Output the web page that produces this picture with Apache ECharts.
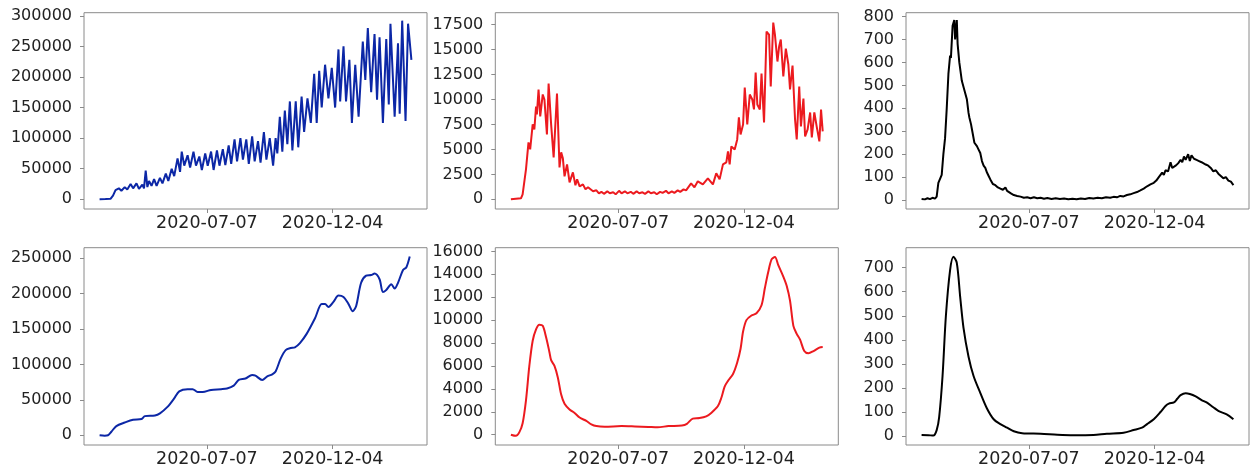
<!DOCTYPE html>
<html>
<head>
<meta charset="utf-8">
<script src="https://cdn.jsdelivr.net/npm/echarts@6/dist/echarts.min.js"></script>
<style>
html, body { margin: 0; padding: 0; background: #fff; }
#main { width: 1255px; height: 472px; }
</style>
</head>
<body>
<div id="main"></div>
<script>
// x = days since 2020-03-01
var tickDays = [128, 278];
var tickLabels = ['2020-07-07', '2020-12-04'];

// top row: daily values, [day, value]
var testsDaily = [[0,300],[7,400],[13,800],[16,6000],[19,15000],[21,13000],[23,18000],[26,14000],[30,20000],[33,16000],[37,25000],[40,18000],[44,26000],[47,17000],[51,24000],[53,18000],[55,47000],[57,20000],[59,30000],[62,22000],[65,33000],[68,22000],[72,35000],[75,26000],[79,42000],[82,30000],[86,50000],[89,38000],[93,67000],[96,45000],[98,78000],[101,55000],[105,72000],[108,52000],[112,78000],[115,55000],[119,70000],[122,48000],[126,75000],[129,55000],[133,78000],[136,48000],[140,80000],[143,55000],[147,82000],[150,56000],[154,88000],[157,58000],[161,98000],[164,62000],[168,100000],[171,65000],[175,98000],[178,58000],[182,103000],[185,62000],[189,95000],[192,60000],[196,110000],[199,65000],[203,100000],[207,55000],[210,100000],[212,75000],[215,135000],[218,78000],[221,145000],[224,90000],[227,160000],[230,80000],[234,160000],[237,85000],[241,168000],[244,110000],[248,165000],[252,125000],[256,205000],[259,125000],[262,210000],[265,150000],[269,220000],[273,165000],[277,215000],[281,150000],[285,245000],[287,160000],[291,250000],[294,160000],[298,228000],[301,125000],[305,220000],[309,135000],[314,258000],[317,195000],[320,280000],[324,175000],[328,270000],[331,163000],[334,265000],[338,125000],[342,262000],[345,155000],[347,287000],[352,135000],[356,255000],[358,140000],[361,292000],[365,128000],[368,287000],[372,228000]];

var casesDaily = [[0,0],[12,100],[14,500],[18,3000],[21,5700],[23,5000],[26,7500],[28,7000],[30,9300],[31,8500],[33,11000],[35,8300],[38,10500],[40,10000],[43,6500],[45,11600],[48,7500],[51,4200],[55,10600],[58,3200],[60,4700],[62,4100],[64,2300],[67,3500],[70,1700],[74,2700],[77,1400],[79,2000],[82,1300],[86,1500],[89,1000],[92,1200],[98,800],[102,900],[105,600],[108,750],[111,550],[115,800],[118,600],[122,700],[125,500],[129,850],[132,600],[136,800],[139,600],[143,750],[146,550],[150,800],[153,600],[157,700],[160,550],[164,800],[167,600],[171,700],[174,500],[178,750],[181,650],[185,850],[188,600],[192,800],[195,650],[199,900],[202,750],[206,1000],[209,900],[215,1600],[219,1200],[223,1800],[229,1500],[235,2100],[241,1500],[245,2600],[249,2000],[253,3500],[257,3700],[259,4800],[261,3500],[263,5300],[267,5000],[270,6000],[272,8200],[274,6500],[277,7500],[279,11200],[282,7500],[285,10500],[288,10000],[290,9000],[292,12700],[294,9500],[297,9000],[299,12600],[302,7700],[305,16800],[308,16500],[310,11300],[313,17700],[315,16500],[318,13800],[320,15300],[322,16000],[325,12300],[328,15100],[331,13500],[333,11000],[336,13400],[339,8000],[341,6000],[344,11300],[346,7300],[349,10100],[351,6300],[354,7000],[357,8700],[359,6200],[362,8700],[365,7200],[368,5800],[370,9000],[372,6800]];

var deathsDaily = [[0,5],[4,3],[7,8],[10,4],[13,10],[16,6],[18,15],[20,75],[22,80],[24,110],[26,200],[28,270],[30,400],[32,550],[34,630],[35,620],[37,760],[39,785],[40,700],[42,785],[43,680],[45,600],[48,520],[51,480],[54,440],[56,380],[57,360],[59,330],[60,310],[63,250],[66,235],[68,220],[70,205],[72,170],[74,150],[76,140],[78,120],[80,105],[82,90],[85,70],[88,65],[91,55],[94,50],[97,45],[100,55],[102,40],[104,35],[107,28],[110,22],[114,18],[118,15],[122,10],[126,12],[130,8],[134,12],[138,8],[142,10],[146,6],[150,9],[155,5],[160,8],[165,5],[170,7],[175,4],[180,6],[185,4],[190,7],[195,5],[200,9],[205,7],[210,10],[215,8],[220,12],[225,10],[229,14],[233,12],[237,18],[241,16],[245,22],[249,25],[253,30],[257,35],[261,42],[265,50],[269,60],[273,68],[277,75],[280,85],[283,100],[285,95],[287,120],[289,110],[291,130],[294,125],[297,165],[299,140],[303,150],[306,160],[309,175],[311,165],[313,190],[315,175],[318,200],[320,170],[322,195],[325,180],[328,175],[331,170],[334,165],[336,160],[339,155],[342,150],[345,140],[348,125],[351,130],[354,115],[357,105],[360,95],[363,100],[366,85],[369,80],[372,65]];

// bottom row: smoothed values
var testsSmooth = [[0,0],[6,-500],[10,0],[14,5000],[20,13000],[30,18000],[40,22000],[50,23000],[54,27000],[66,28000],[72,31000],[81,40000],[89,52000],[95,62000],[105,65000],[111,65000],[117,61000],[123,61000],[133,64000],[145,65000],[152,66000],[160,70000],[166,78000],[174,80000],[182,85000],[186,84000],[194,78000],[200,83000],[206,86000],[210,90000],[216,108000],[222,120000],[228,123000],[233,124000],[239,130000],[247,143000],[257,165000],[265,185000],[269,185000],[273,181000],[279,188000],[285,197000],[291,195000],[297,185000],[302,175000],[306,182000],[312,215000],[318,225000],[324,226000],[328,228000],[334,220000],[338,202000],[342,205000],[348,213000],[352,207000],[356,215000],[362,233000],[366,237000],[370,252000]];

var casesSmooth = [[0,0],[6,-100],[10,200],[14,1000],[18,3000],[22,6000],[26,8200],[30,9200],[34,9600],[38,9500],[42,8500],[46,7200],[48,6500],[52,6000],[56,5000],[60,3500],[64,2700],[70,2200],[76,1900],[82,1500],[90,1200],[96,900],[102,750],[112,700],[132,750],[148,720],[164,680],[175,650],[188,750],[204,800],[210,950],[217,1400],[225,1450],[233,1600],[239,1900],[247,2500],[251,3200],[255,4200],[259,4700],[265,5300],[270,6300],[274,7500],[277,9000],[281,10000],[287,10400],[293,10600],[299,11300],[303,12800],[307,14200],[311,15300],[315,15500],[319,14800],[325,13800],[329,13000],[333,11700],[337,9500],[341,8800],[345,8300],[350,7300],[355,7100],[361,7300],[368,7600],[372,7650]];

var deathsSmooth = [[0,5],[8,4],[14,2],[18,25],[21,80],[25,250],[29,500],[34,690],[38,745],[42,720],[46,580],[50,450],[56,330],[62,250],[70,180],[78,115],[86,70],[94,50],[102,35],[110,20],[120,12],[142,10],[162,6],[181,4],[205,5],[221,10],[241,14],[253,25],[263,35],[269,50],[277,70],[285,100],[291,125],[295,135],[301,140],[305,155],[309,170],[315,178],[320,175],[327,165],[334,150],[340,140],[348,120],[354,105],[364,90],[372,70]];

var yTicksTests = [0, 50000, 100000, 150000, 200000, 250000, 300000];
var yTicksCases = [0, 2500, 5000, 7500, 10000, 12500, 15000, 17500];
var yTicksDeaths = [0, 100, 200, 300, 400, 500, 600, 700, 800];
var yTicksTestsS = [0, 50000, 100000, 150000, 200000, 250000];
var yTicksCasesS = [0, 2000, 4000, 6000, 8000, 10000, 12000, 14000, 16000];
var yTicksDeathsS = [0, 100, 200, 300, 400, 500, 600, 700];

var BLUE = '#0c27a6', RED = '#ec1a1f', BLACK = '#000000';
var FRAME = '#8a8a8a';
var FONT = 'DejaVu Sans';

var panels = [
  { data: testsDaily,  color: BLUE,  ymin: -15800, ymax: 305000, ticks: yTicksTests,   smooth: false },
  { data: casesDaily,  color: RED,   ymin: -970,   ymax: 18690,  ticks: yTicksCases,   smooth: false },
  { data: deathsDaily, color: BLACK, ymin: -39,    ymax: 817,    ticks: yTicksDeaths,  smooth: false },
  { data: testsSmooth, color: BLUE,  ymin: -13700, ymax: 264500, ticks: yTicksTestsS,  smooth: 0.3 },
  { data: casesSmooth, color: RED,   ymin: -900,   ymax: 16320,  ticks: yTicksCasesS,  smooth: 0.3 },
  { data: deathsSmooth,color: BLACK, ymin: -37,    ymax: 783,    ticks: yTicksDeathsS, smooth: 0.3 }
];

var colLeft = [84, 495.3, 906];
var rowTop = [12.7, 247.7];
var rowHeight = [196.3, 197.3];

var grids = [], xAxes = [], yAxes = [], series = [];
panels.forEach(function (p, i) {
  var r = Math.floor(i / 3), c = i % 3;
  grids.push({
    left: colLeft[c], top: rowTop[r], width: 343, height: rowHeight[r],
    show: true, borderColor: FRAME, borderWidth: 1, backgroundColor: 'transparent'
  });
  xAxes.push({
    type: 'value', gridIndex: i, min: -18.6, max: 390.6, position: 'bottom',
    splitLine: { show: false },
    axisLine: { show: false, onZero: false },
    axisTick: { show: true, length: 4, customValues: tickDays, lineStyle: { color: FRAME } },
    axisLabel: {
      customValues: tickDays, margin: 5, fontSize: 17.5, fontFamily: FONT, color: '#222',
      formatter: function (v) {
        var k = tickDays.indexOf(Math.round(v));
        return k >= 0 ? tickLabels[k] : '';
      }
    }
  });
  yAxes.push({
    type: 'value', gridIndex: i, min: p.ymin, max: p.ymax, position: 'left',
    splitLine: { show: false },
    axisLine: { show: false, onZero: false },
    axisTick: { show: true, length: 4, customValues: p.ticks, lineStyle: { color: FRAME } },
    axisLabel: {
      customValues: p.ticks, margin: 12, fontSize: 16, fontFamily: FONT, color: '#222',
      formatter: function (v) { return String(v); }
    }
  });
  series.push({
    type: 'line', xAxisIndex: i, yAxisIndex: i, data: p.data,
    showSymbol: false, smooth: p.smooth,
    lineStyle: { color: p.color, width: 2 },
    itemStyle: { color: p.color }
  });
});

var chart = echarts.init(document.getElementById('main'), null, { renderer: 'canvas' });
chart.setOption({
  animation: false,
  backgroundColor: '#ffffff',
  grid: grids,
  xAxis: xAxes,
  yAxis: yAxes,
  series: series
});
</script>
</body>
</html>
